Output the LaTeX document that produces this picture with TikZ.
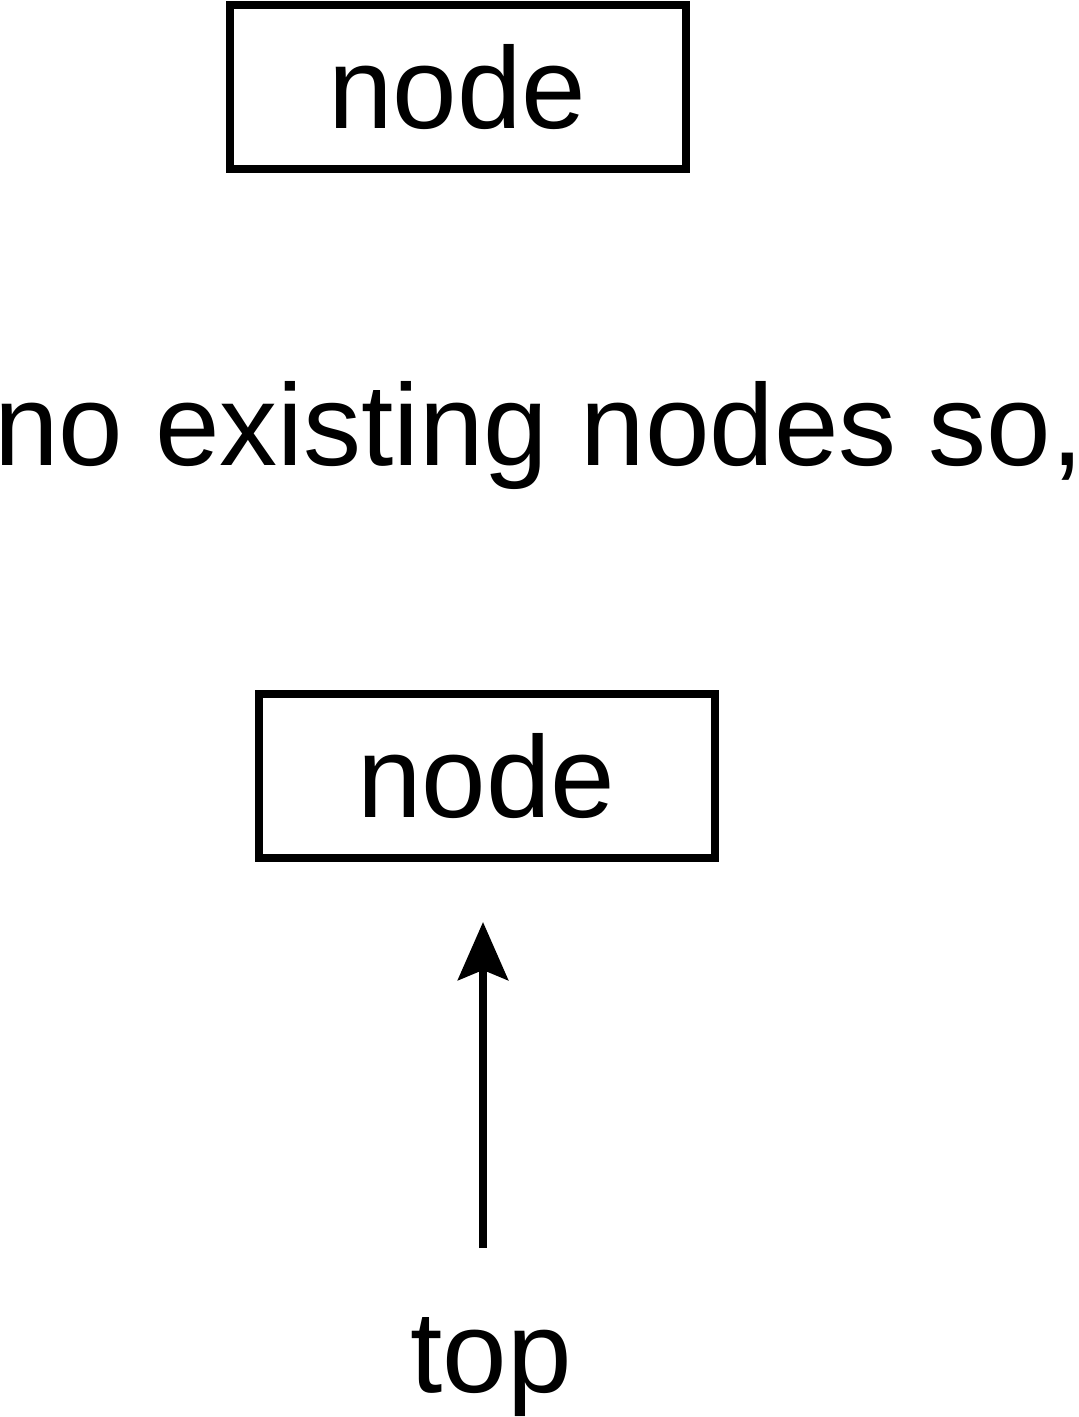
\documentclass[tikz,border=0pt]{standalone}
\usepackage{fontspec}
\setmainfont{Liberation Sans}
\usetikzlibrary{arrows.meta}

\tikzset{
  box/.style={draw, line width=4pt, minimum width=228pt, minimum height=82pt, inner sep=0pt},
  flow/.style={line width=4pt, -{Stealth[length=29pt,width=25pt,inset=5pt]}},
  big/.style={font=\fontsize{58}{66}\selectfont}
}

\begin{document}
\begin{tikzpicture}[x=0.5pt,y=-0.5pt]
\useasboundingbox (0,0) rectangle (1079,1417);

\node[box,big] (upper) at (457.5,87.5) {node};
\node[big,anchor=base] (msg) at (539,465) {no existing nodes so,};
\node[box,big] (lower) at (486.5,776) {node};
\node[big,anchor=base] (toplbl) at (491,1392) {top};

% arrow from below into the lower node
\coordinate (tail) at (483,1248);
\draw[flow] (tail) -- (tail |- lower.south) [shorten >=30pt];
\end{tikzpicture}
\end{document}
